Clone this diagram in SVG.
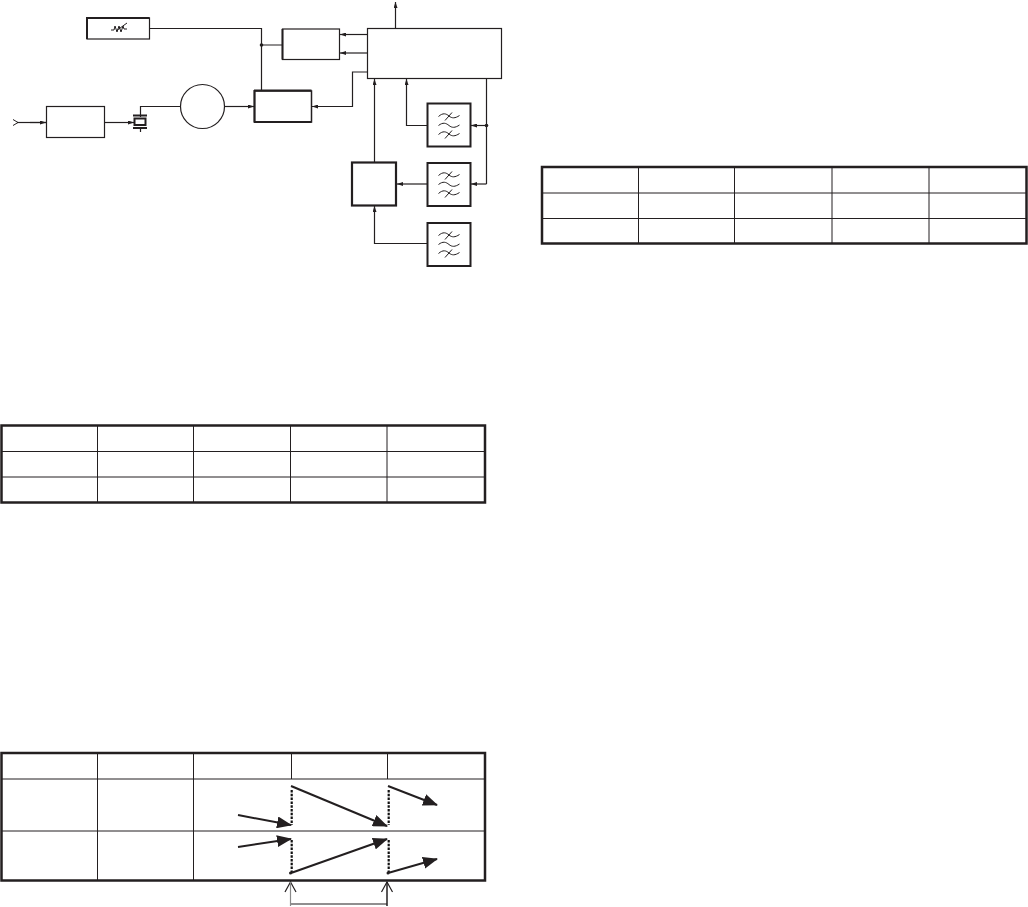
<svg xmlns="http://www.w3.org/2000/svg" width="1028" height="907" viewBox="0 0 1028 907">
<style>
.n{fill:#fff;stroke:#231f20;stroke-width:1.200}
.t{fill:#fff;stroke:#231f20;stroke-width:2.500}
.c{fill:none;stroke:#231f20;stroke-width:1.200}
.a{fill:none;stroke:#231f20;stroke-width:1.200;marker-end:url(#h)}
.w{fill:none;stroke:#231f20;stroke-width:1}
.g{fill:none;stroke:#231f20;stroke-width:1}
.b{fill:none;stroke:#231f20;stroke-width:2;marker-end:url(#big)}
.d{fill:none;stroke:#111;stroke-width:2.200;stroke-dasharray:2.500 1.300}
.f{fill:#fff;stroke:#231f20;stroke-width:2}
</style>
<defs>
<marker id="h" markerWidth="6" markerHeight="4" refX="6" refY="2" orient="auto" markerUnits="userSpaceOnUse"><path d="M0 0L6 2L0 4Z" fill="#231f20"/></marker>
<marker id="big" markerWidth="15" markerHeight="12" refX="14" refY="6" orient="auto" markerUnits="userSpaceOnUse"><path d="M0 0L15 6L0 12Z" fill="#231f20"/></marker>
<g id="wave"><path class="w" d="M-10.500 -9C-6 -13 -3 -12 0 -9.500S6 -7 10.500 -10M-4 -5L3 -13"/><path class="w" d="M-10.500 0C-6 -3.500 -3 -2.500 0 0S6 2.500 10.500 -.5"/><path class="w" d="M-10.500 9C-6 5 -3 6 0 8.500S6 11 10.500 8M-4 13L3 5"/></g>
</defs>
<rect width="1028" height="907" fill="#fff"/>
<g id="connectors">
<path class="c" d="M150 28.500H261.500V91M261.500 45H282"/>
<circle cx="261.500" cy="45" r="1.800" fill="#231f20"/>
<path class="c" d="M17 122.500H46"/><path class="a" d="M30 122.500H46"/>
<path class="a" d="M105 122.500H134"/>
<path class="c" d="M140.500 117V106.500H180"/>
<path class="a" d="M224 106.500H254"/>
<path class="a" d="M367.500 34.500H340"/>
<path class="a" d="M367.500 53H340"/>
<path class="a" d="M367.500 72H352.500V106.500H312"/>
<path class="a" d="M395.500 28.500V2"/>
<path class="a" d="M374.500 162V79"/>
<path class="a" d="M427 125.500H406.500V79"/>
<path class="c" d="M486.500 78.500V184"/>
<path class="a" d="M486.500 125.500H471"/>
<circle cx="486.500" cy="125.500" r="1.800" fill="#231f20"/>
<path class="a" d="M486.500 184H471"/>
<path class="a" d="M427 184H397"/>
<path class="a" d="M427 243.500H374.500V206"/>
</g>
<g id="antenna"><path fill="none" stroke="#231f20" stroke-width="1" d="M13 119.500L18 122.500L13 125.500"/></g>
<g id="resistor-box"><rect class="n" x="87" y="18" width="62.500" height="21"/><path fill="none" stroke="#231f20" stroke-width="2" d="M87 39V18H149.500"/>
<path class="w" d="M111 30H114L115 26L117 32L119 26L121 32L123 26L124 29H127M116 31L127 23"/></g>
<g id="preamp"><rect class="n" x="46.500" y="106.500" width="58" height="31"/></g>
<g id="crystal"><path fill="none" stroke="#231f20" stroke-width="2" d="M133 115.500H147M133 128H147"/><rect x="134.500" y="118.500" width="11" height="6.500" fill="#fff" stroke="#231f20" stroke-width="2"/><path class="c" d="M140.500 128V132"/></g>
<g id="mixer-circle"><circle class="n" cx="202.500" cy="106.500" r="22"/></g>
<g id="mixer-box"><rect x="254.500" y="91" width="57" height="31" fill="#fff" stroke="#231f20" stroke-width="1.500"/><path d="M254 90.500H311.500M254 122H311.500M254.500 90V122.500" fill="none" stroke="#231f20" stroke-width="2"/></g>
<g id="box-b"><rect class="n" x="282.500" y="29" width="57" height="30.500"/><path d="M282.500 29V59.500" stroke="#231f20" stroke-width="2" fill="none"/></g>
<g id="controller"><rect class="n" x="367.500" y="28.500" width="134" height="50"/></g>
<g id="box-c"><rect x="352" y="162.500" width="44" height="43" fill="#fff" stroke="#231f20" stroke-width="2.200"/></g>
<g id="filter-1"><rect class="f" x="427.500" y="103.500" width="43" height="43"/><use href="#wave" x="449" y="125.500"/></g>
<g id="filter-2"><rect class="f" x="427.500" y="163" width="43" height="43"/><use href="#wave" x="449" y="184.500"/></g>
<g id="filter-3"><rect class="f" x="427.500" y="223" width="43" height="43"/><use href="#wave" x="449" y="244.500"/></g>
<g id="table-1"><rect class="t" x="1.500" y="425.500" width="483.500" height="77"/><path class="g" d="M1 451.500H485M1 477H485M97.500 425V503M193.500 425V503M290.500 425V503M387 425V503"/></g>
<g id="table-2"><rect class="t" x="542" y="167" width="484.500" height="76.500"/><path class="g" d="M541 193H1027M541 218.500H1027M638.500 167V244M734.500 167V244M832 167V244M929 167V244"/></g>
<g id="table-3"><rect class="t" x="1.500" y="753" width="483.500" height="127.500"/><path class="g" d="M1 779H485M1 831H485M97.500 753V881M193.500 753V881M291.500 753V779M387.500 753V779"/>
<path class="d" d="M291.700 790V825M388.700 790V825M291.700 840V873M388.700 840V873"/>
<path class="b" d="M238 815L291 825"/>
<path class="b" d="M291 786L387 826"/>
<path class="b" d="M388 786L437 805"/>
<path class="b" d="M238 847L291 839"/>
<path class="b" d="M291 873L387 839"/>
<path class="b" d="M388 873L437 859"/>
<circle cx="290.500" cy="873" r="1.500" fill="#231f20"/><circle cx="388" cy="873" r="1.500" fill="#231f20"/>
</g>
<g id="period-marker"><path class="c" d="M290.500 904H387M285 892L290.500 882L296 892M381.500 892L387 882L392.500 892"/><path d="M290.500 882V906" stroke="#8a8a8a" stroke-width="1.200" fill="none"/><path d="M387 882V906" stroke="#231f20" stroke-width="1.500" fill="none"/></g>
</svg>
